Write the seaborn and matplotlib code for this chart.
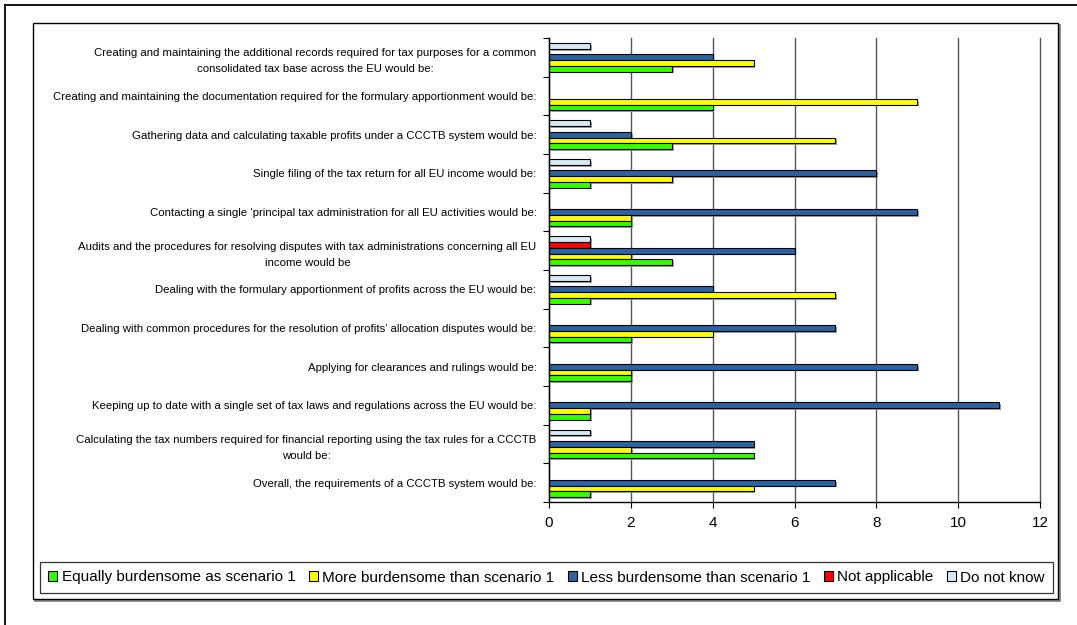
import numpy as np
import pandas as pd
import matplotlib
matplotlib.use("Agg")
import matplotlib.pyplot as plt
import matplotlib.patheffects as pe
from matplotlib.patches import Rectangle, Patch
from matplotlib.lines import Line2D
import seaborn as sns

# ---------------- data (top to bottom) ----------------
categories = [
    "Creating and maintaining the additional records required for tax purposes for a common\nconsolidated tax base across the EU would be:",
    "Creating and maintaining the documentation required for the formulary apportionment would be:",
    "Gathering data and calculating taxable profits under a CCCTB system would be:",
    "Single filing of the tax return for all EU income would be:",
    "Contacting a single \u2018principal tax administration for all EU activities would be:",
    "Audits and the procedures for resolving disputes with tax administrations concerning all EU\nincome would be",
    "Dealing with the formulary apportionment of profits across the EU would be:",
    "Dealing with common procedures for the resolution of profits\u2019 allocation disputes would be:",
    "Applying for clearances and rulings would be:",
    "Keeping up to date with a single set of tax laws and regulations across the EU would be:",
    "Calculating the tax numbers required for financial reporting using the tax rules for a CCCTB\nwould be:",
    "Overall, the requirements of a CCCTB system would be:",
]
equally = [3, 4, 3, 1, 2, 3, 1, 2, 2, 1, 5, 1]
more = [5, 9, 7, 3, 2, 2, 7, 4, 2, 1, 2, 5]
less = [4, 0, 2, 8, 9, 6, 4, 7, 9, 11, 5, 7]
not_applicable = [0, 0, 0, 0, 0, 1, 0, 0, 0, 0, 0, 0]
do_not_know = [1, 0, 1, 1, 0, 1, 1, 0, 0, 0, 1, 0]

series_names = [
    "Equally burdensome as scenario 1",
    "More burdensome than scenario 1",
    "Less burdensome than scenario 1",
    "Not applicable",
    "Do not know",
]
series_values = [equally, more, less, not_applicable, do_not_know]
x_ticks = [0, 2, 4, 6, 8, 10, 12]

colors = {
    series_names[0]: "#33FF00",
    series_names[1]: "#FFFF00",
    series_names[2]: "#2B63A3",
    series_names[3]: "#FF0000",
    series_names[4]: "#D6EAF4",
}

rows = []
for name, vals in zip(series_names, series_values):
    for cat, v in zip(categories, vals):
        if v > 0:
            rows.append({"category": cat, "series": name, "value": v})
df = pd.DataFrame(rows)

# ---------------- figure ----------------
plt.rcParams["font.family"] = ["Liberation Sans", "DejaVu Sans"]
W, H = 1077, 625
fig = plt.figure(figsize=(W / 100, H / 100), dpi=100)
fig.patch.set_facecolor("white")


def fx(x):
    return x / W


def fy(y):
    return 1 - y / H


# outer frame (partially cut off at right/bottom)
fig.add_artist(Line2D([fx(5), fx(W + 5)], [fy(5), fy(5)], color="black", lw=1.3,
                      transform=fig.transFigure, zorder=-5))
fig.add_artist(Line2D([fx(5), fx(5)], [fy(5), fy(H + 5)], color="black", lw=1.3,
                      transform=fig.transFigure, zorder=-5))

# chart area frame with shadow
fig.add_artist(Rectangle((fx(35), fy(601)), fx(1060) - fx(35), fy(25) - fy(601),
                         transform=fig.transFigure, facecolor="none",
                         edgecolor="#777777", lw=1.2, zorder=-4))
fig.add_artist(Rectangle((fx(33), fy(599)), fx(1058) - fx(33), fy(23) - fy(599),
                         transform=fig.transFigure, facecolor="white",
                         edgecolor="black", lw=1.0, zorder=-3))

ax = fig.add_axes([fx(549), fy(502), fx(1040) - fx(549), fy(38) - fy(502)])
ax.set_facecolor("none")
ax.set_zorder(1)

draw_order = series_names[::-1]  # top of group first
sns.barplot(data=df, y="category", x="value", hue="series", order=categories,
            hue_order=draw_order, palette=colors, orient="h", width=0.74,
            dodge=True, edgecolor="black", linewidth=0.8, legend=False, ax=ax,
            errorbar=None, saturation=1)

for p in ax.patches:
    p.set_path_effects([pe.SimplePatchShadow(offset=(1.3, -1.3), shadow_rgbFace="#888888", alpha=0.8),
                        pe.Normal()])

ax.set_xlim(0, 12)
ax.set_ylim(11.5, -0.5)
ax.set_xticks(x_ticks)
ax.set_xticklabels([str(t) for t in x_ticks])
ax.set_yticks(range(len(categories)))
ax.set_yticklabels(categories, fontsize=8.2, multialignment="center", linespacing=1.75)
ax.set_yticks(np.arange(-0.5, len(categories), 1), minor=True)
ax.tick_params(axis="y", which="major", length=0, pad=9)
ax.tick_params(axis="y", which="minor", length=4, width=0.8, direction="out")
ax.tick_params(axis="x", which="major", length=4, width=0.8, labelsize=11, pad=6)
ax.set_xlabel("")
ax.set_ylabel("")
ax.xaxis.grid(True, color="#555555", linewidth=1)
ax.yaxis.grid(False)
ax.set_axisbelow(True)
for gl in ax.get_xgridlines():
    gl.set_clip_on(False)
for s in ["top", "right"]:
    ax.spines[s].set_visible(False)
for s in ["left", "bottom"]:
    ax.spines[s].set_color("black")
    ax.spines[s].set_linewidth(1)

# legend
handles = [Patch(facecolor=colors[n], edgecolor="black", linewidth=0.8) for n in series_names]
leg = fig.legend(handles, series_names, loc="center",
                 bbox_to_anchor=((fx(41) + fx(1052)) / 2, (fy(561) + fy(594)) / 2),
                 ncol=5, fontsize=11, frameon=True, fancybox=False, edgecolor="black",
                 handlelength=0.6, handleheight=0.6, handletextpad=0.3,
                 columnspacing=0.85, borderpad=0.55, borderaxespad=0)
leg.get_frame().set_linewidth(0.9)
leg.set_zorder(2)

fig.savefig("out.png", dpi=100, facecolor="white")
